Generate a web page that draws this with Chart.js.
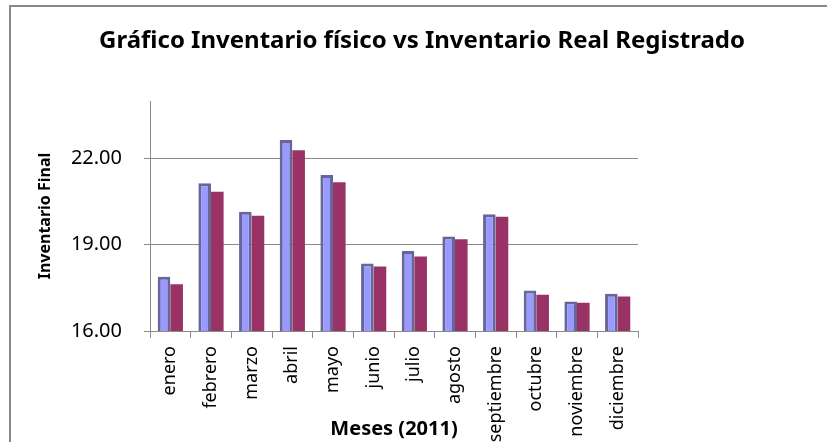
<!DOCTYPE html>
<html>
<head>
<meta charset="utf-8">
<script src="https://cdn.jsdelivr.net/npm/chart.js@4.4.1/dist/chart.umd.min.js"></script>
<style>
    html, body { margin: 0; padding: 0; background: #fff; overflow: hidden; }
    #wrap { position: relative; width: 827px; height: 442px; }
    #frame {
        position: absolute; left: 9px; top: 5px; width: 900px; height: 500px;
        border-left: 2px solid #8a8a8a; border-top: 2px solid #8a8a8a;
    }
    canvas { position: absolute; left: 0; top: 0; }
</style>
</head>
<body>
<div id="wrap">
    <div id="frame"></div>
    <canvas id="inventory-chart" width="827" height="442"></canvas>
</div>
<script>
const months = ["enero", "febrero", "marzo", "abril", "mayo", "junio", "julio",
    "agosto", "septiembre", "octubre", "noviembre", "diciembre"];
const physicalInventory = [17.89, 21.14, 20.15, 22.64, 21.43, 18.35, 18.78, 19.29, 20.06, 17.41, 17.03, 17.30];
const registeredInventory = [17.63, 20.84, 20.01, 22.29, 21.17, 18.24, 18.59, 19.19, 19.97, 17.26, 16.98, 17.20];
const yTicks = [16, 19, 22];

const chartTitle = "Gráfico Inventario físico vs Inventario Real Registrado";
const gridColor = "#8a8a8a";
const fontFamily = "'Noto Sans', 'Open Sans', sans-serif";

// title centred on the outer frame, not on the plot
const titlePlugin = {
    id: "frameTitle",
    afterDraw(chart) {
        const ctx = chart.ctx;
        ctx.save();
        ctx.font = "bold 24px " + fontFamily;
        ctx.fillStyle = "#000";
        ctx.textAlign = "center";
        ctx.textBaseline = "middle";
        ctx.fillText(chartTitle, 422, 41);
        ctx.restore();
    }
};

const ctx = document.getElementById("inventory-chart").getContext("2d");
new Chart(ctx, {
    type: "bar",
    data: {
        labels: months,
        datasets: [
            {
                label: "Inventario físico",
                data: physicalInventory,
                backgroundColor: "#9999ff",
                borderColor: "#666699",
                borderWidth: 3,
                categoryPercentage: 0.62,
                barPercentage: 1,
            },
            {
                label: "Inventario Real Registrado",
                data: registeredInventory,
                backgroundColor: "#993366",
                borderWidth: 0,
                categoryPercentage: 0.62,
                barPercentage: 1,
            },
        ],
    },
    options: {
        responsive: false,
        animation: false,
        layout: {
            padding: { top: 101, left: 0, right: 189, bottom: 0 },
        },
        plugins: {
            legend: { display: false },
            tooltip: { enabled: false },
        },
        scales: {
            x: {
                grid: {
                    offset: true,
                    drawOnChartArea: false,
                    drawTicks: true,
                    tickLength: 7,
                    color: gridColor,
                },
                border: { color: gridColor, width: 1 },
                ticks: {
                    minRotation: 90,
                    maxRotation: 90,
                    autoSkip: false,
                    padding: 8,
                    color: "#000",
                    font: { family: fontFamily, size: 18 },
                },
                title: {
                    display: true,
                    text: "Meses (2011)",
                    color: "#000",
                    font: { family: fontFamily, size: 20, weight: "bold" },
                    padding: { top: 0, bottom: 1 },
                },
                afterFit: (scale) => { scale.height = 111; },
            },
            y: {
                min: 16,
                max: 24,
                grid: {
                    drawTicks: true,
                    tickLength: 6,
                    color: gridColor,
                },
                border: { color: gridColor, width: 1 },
                ticks: {
                    padding: 22,
                    color: "#000",
                    font: { family: fontFamily, size: 20 },
                    callback: (v) => Number(v).toFixed(2),
                },
                afterBuildTicks: (scale) => {
                    scale.ticks = yTicks.map((v) => ({ value: v }));
                },
                title: {
                    display: true,
                    text: "Inventario Final",
                    color: "#000",
                    font: { family: fontFamily, size: 16, weight: "bold" },
                    padding: { top: 36, bottom: 0 },
                },
                afterFit: (scale) => { scale.width = 150; },
            },
        },
    },
    plugins: [titlePlugin],
});
</script>
</body>
</html>
